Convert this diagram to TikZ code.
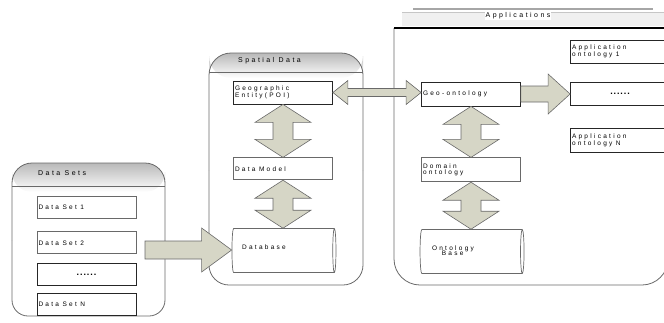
\documentclass[tikz,border=0pt]{standalone}
\usepackage{fontspec}
\setmainfont{Liberation Sans}
\newfontfamily\lblfont[LetterSpace=35]{Liberation Sans}
\usetikzlibrary{positioning,calc,shapes.geometric}

\definecolor{arrowfill}{RGB}{214,214,198}
\definecolor{edgegray}{RGB}{105,105,105}

% small spaced-out label font
\newcommand{\lblsize}{\lblfont\fontsize{6.5}{6}\selectfont}
% word gap inside the boxed labels
\newcommand{\wsp}{\hspace*{3.5pt}}
% heavy dots for the filler boxes
\newcommand{\filler}{{\fontspec{Liberation Sans}[LetterSpace=10]\fontsize{9}{9}\selectfont\bfseries ......}}

\tikzset{
    container/.style={
           draw=edgegray, line width=0.8pt,
           },
    band/.style={
           top color=gray!55, bottom color=white,
           },
    box/.style={
           rectangle,
           draw=edgegray, line width=0.8pt,
           minimum height=22pt,
           text width=96pt,
           inner sep=1.5pt,
           align=left,
           font=\lblsize,
           },
    darkbox/.style={box, draw=black!85},
    store/.style={
           cylinder,
           shape border rotate=0,
           draw=edgegray, line width=0.7pt,
           minimum width=44pt,
           minimum height=104pt,
           aspect=0.3,
           inner sep=0pt,
           font=\lblsize,
           },
    blockarrow/.style={
           draw=edgegray, line width=0.6pt, fill=arrowfill,
           },
    title/.style={
           inner sep=1pt,
           font={\lblfont\fontsize{7}{8}\selectfont},
           },
}

% vertical double block arrow, from #1 (top) to #2 (bottom)
\newcommand{\biarrowv}[2]{%
  \draw[blockarrow] let \p1=(#1), \p2=(#2) in
    (\x1,\y1) -- (\x1-28pt,\y1-18pt) -- (\x1-10pt,\y1-18pt) -- (\x1-10pt,\y2+18pt)
    -- (\x1-28pt,\y2+18pt) -- (\x1,\y2) -- (\x1+28pt,\y2+18pt) -- (\x1+10pt,\y2+18pt)
    -- (\x1+10pt,\y1-18pt) -- (\x1+28pt,\y1-18pt) -- cycle;}

% horizontal double block arrow, from #1 (left) to #2 (right)
\newcommand{\biarrowh}[2]{%
  \draw[blockarrow] let \p1=(#1), \p2=(#2) in
    (\x1,\y1) -- (\x1+15pt,\y1+12pt) -- (\x1+15pt,\y1+4pt) -- (\x2-15pt,\y1+4pt)
    -- (\x2-15pt,\y1+12pt) -- (\x2,\y1) -- (\x2-15pt,\y1-12pt) -- (\x2-15pt,\y1-4pt)
    -- (\x1+15pt,\y1-4pt) -- (\x1+15pt,\y1-12pt) -- cycle;}

% single block arrow: #1 tail, #2 tip, #3 half body, #4 half head, #5 head length
\newcommand{\onearrow}[5]{%
  \draw[blockarrow] let \p1=(#1), \p2=(#2) in
    (\x1,\y1+#3pt) -- (\x2-#5pt,\y1+#3pt) -- (\x2-#5pt,\y1+#4pt) -- (\x2,\y1)
    -- (\x2-#5pt,\y1-#4pt) -- (\x2-#5pt,\y1-#3pt) -- (\x1,\y1-#3pt) -- cycle;}

\begin{document}
\begin{tikzpicture}[x=1pt,y=-1pt]

\clip (0,0) rectangle (664,322);

% ---- data sets ----
\shade[band, rounded corners=20pt] (12,192) -- (12,163) -- (165,163) -- (165,192) -- cycle;
\draw[container, rounded corners=20pt] (12,240) -- (12,163) -- (165,163) -- (165,240);
\draw[container, rounded corners=16pt] (12,240) -- (12,316) -- (165,316) -- (165,240);
\draw[container] (12,186) -- (165,186);
\node[title, anchor=west] (setstitle) at (37,173) {Data Sets};

\node[box] (set1) at (86.5,207) {Data\wsp Set\wsp 1};
\node[box, below=13pt of set1] (set2) {Data\wsp Set\wsp 2};
\node[darkbox, below=9pt of set2, align=center] (set3) {\filler};
\node[darkbox, below=7pt of set3] (set4) {Data\wsp Set\wsp N};

% ---- spatial data ----
\shade[band, rounded corners=22pt] (209,78) -- (209,53) -- (363,53) -- (363,78) -- cycle;
\draw[container, rounded corners=22pt] (209,170) -- (209,53) -- (363,53) -- (363,170);
\draw[container, rounded corners=20pt] (209,170) -- (209,285) -- (363,285) -- (363,170);
\draw[container] (209,72) -- (363,72);
\node[title, anchor=west] (spatialtitle) at (237,61) {Spatial Data};

\node[darkbox,
  minimum height=23pt] (geo) 	% entity box
  at (283,92.5) {Geographic\\Entity(POI)};
\node[box,
  below=53pt of geo] (model) 	% below the entity box
  {Data\wsp Model};
\node[store,
  below=48pt of model] (dbase) 	% database drum
  {\raisebox{6pt}{Database}\hspace*{38pt}};

% ---- applications ----
\draw[line width=1.4pt, gray!70] (413,9) -- (653,9);
\fill[gray!12] (402,13) rectangle (664,26);
\draw[gray!45] (402,12) -- (664,12);
\node[title, fill=white] (apptitle) at (518,16) {Applications};
\draw[container, rounded corners=26pt] (394,28) -- (394,285) -- (668,285) -- (668,28);
\draw[line width=1.2pt] (394,28) -- (664,28);

\node[darkbox, minimum height=24pt] (gonto) at (471,94) {Geo-ontology};
\node[box,
  minimum height=24pt,
  below=51pt of gonto] (domain) 	% under the geo-ontology
  {Domain\\ontology};
\node[store,
  below=47pt of domain] (obase) 	% ontology drum
  {\begin{tabular}{@{}l@{}}Ontology\\[-1pt]\hspace*{1.5em}Base\end{tabular}\hspace*{36pt}};

\node[darkbox, minimum height=23pt] (app1) at (620,51.5) {Application\\ontology\wsp 1};
\node[darkbox, minimum height=23pt, align=center] (appdots) at (620,93.5) {\filler};
\node[darkbox, minimum height=24pt] (appN) at (620,140) {Application\\ontology\wsp N};

% ---- block arrows ----
\biarrowv{geo.south}{model.north}
\biarrowv{model.south}{dbase.north}
\biarrowv{gonto.south}{domain.north}
\biarrowv{domain.south}{obase.north}
\biarrowh{geo.east}{gonto.west}

\coordinate (feed) at (145,250);
\onearrow{feed}{dbase.west}{9}{22}{30}
\onearrow{gonto.east}{appdots.west}{8}{20}{22}

\end{tikzpicture}
\end{document}
